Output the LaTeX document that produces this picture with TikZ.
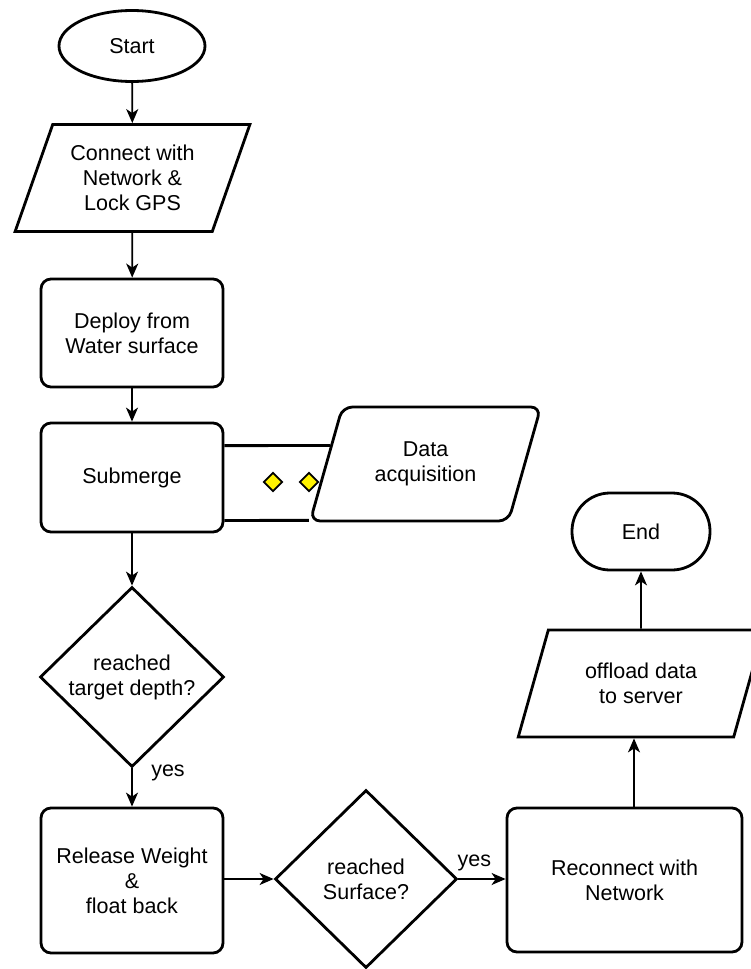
\documentclass[tikz,border=0pt]{standalone}
\usepackage{fontspec}
\setmainfont{Liberation Sans}
\usetikzlibrary{shapes.geometric,arrows.meta,positioning}

\tikzstyle{term} = [ellipse, draw, line width=2.8pt, minimum width=146pt, minimum height=71pt, inner sep=0pt]
\tikzstyle{pill} = [rectangle, rounded corners=38pt, draw, line width=2.8pt, minimum width=138pt, minimum height=77pt, inner sep=0pt]
\tikzstyle{io} = [trapezium, trapezium left angle=66, trapezium right angle=114, trapezium stretches, draw, line width=2.8pt, align=center, inner sep=0pt]
\tikzstyle{proc} = [rectangle, rounded corners=10pt, draw, line width=2.8pt, align=center, inner sep=0pt]
\tikzstyle{dec} = [diamond, draw, line width=2.8pt, align=center, inner sep=0pt]
\tikzstyle{dot} = [diamond, draw, fill=yellow, line width=1.8pt, minimum size=19pt, inner sep=0pt]
\tikzstyle{lbl} = [inner sep=0pt]
\tikzstyle{arr} = [-{Stealth[length=14pt,width=12pt,inset=4pt]}, line width=1.8pt]
\tikzstyle{every node}=[font=\fontsize{21.5}{25}\selectfont]

\begin{document}
\begin{tikzpicture}[x=1pt, y=-1pt]
  \useasboundingbox (0,0) rectangle (751,969);
  % left column
  \node[term] (start) at (132,46) {Start};
  \node[io, minimum width=235pt, minimum height=107pt] (connect) at (132.5,178) {Connect with\\Network \&\\Lock GPS};
  \node[proc, minimum width=182pt, minimum height=108pt] (deploy) at (132,333) {Deploy from\\Water surface};
  \node[proc, minimum width=182pt, minimum height=109pt] (submerge) at (132,477.5) {Submerge};
  \node[io, rounded corners=10pt, minimum width=231pt, minimum height=114pt] (dataacq) at (425.5,464) {Data\\acquisition};
  \node[dec, minimum width=184pt, minimum height=180pt] (depth) at (132,677) {reached\\target depth?};
  \node[proc, minimum width=182pt, minimum height=145pt] (release) at (132,880.5) {Release Weight\\\&\\float back};
  % bottom row and right column
  \node[dec, minimum width=182pt, minimum height=178pt] (surface) at (366,879) {reached\\Surface?};
  \node[proc, minimum width=235pt, minimum height=144pt] (reconnect) at (624.5,880) {Reconnect with\\Network};
  \node[io, minimum width=246pt, minimum height=107pt] (offload) at (641,683.5) {offload data\\to server};
  \node[pill] (end) at (641,531.5) {End};

  % band to data acquisition
  \coordinate (bandT) at ([yshift=-24pt]submerge.north east);
  \coordinate (bandTx) at ([xshift=300pt]bandT);
  \coordinate (bandB) at ([yshift=13pt]submerge.south east);
  \coordinate (bandBx) at ([xshift=300pt]bandB);
  \draw[line width=2.8pt] (bandT) -- (intersection of bandT--bandTx and dataacq.top left corner--dataacq.bottom left corner);
  \draw[line width=2.8pt] (bandB) -- (intersection of bandB--bandBx and dataacq.top left corner--dataacq.bottom left corner);
  \node[dot] (dotA) at (273,482) {};
  \node[dot] (dotB) at (309,482) {};

  % arrows
  \draw[arr] (start) -- (connect);
  \draw[arr] (connect) -- (deploy);
  \draw[arr] (deploy) -- (submerge);
  \draw[arr] (submerge) -- (depth);
  \draw[arr] (depth) -- (release) node[lbl] (yesA) at ([xshift=36pt,yshift=-5pt]depth.south) {yes};
  \draw[arr] (release.east |- surface.west) -- (surface.west);
  \draw[arr] (surface.east) -- (surface.east -| reconnect.west) node[lbl] (yesB) at ([xshift=16pt,yshift=16pt]surface.east) {yes};
  \draw[arr] ([xshift=9.5pt]reconnect.north) -- ([xshift=9.5pt]reconnect.north |- offload.south);
  \draw[arr] (offload.north) -- (end.south);
\end{tikzpicture}
\end{document}
